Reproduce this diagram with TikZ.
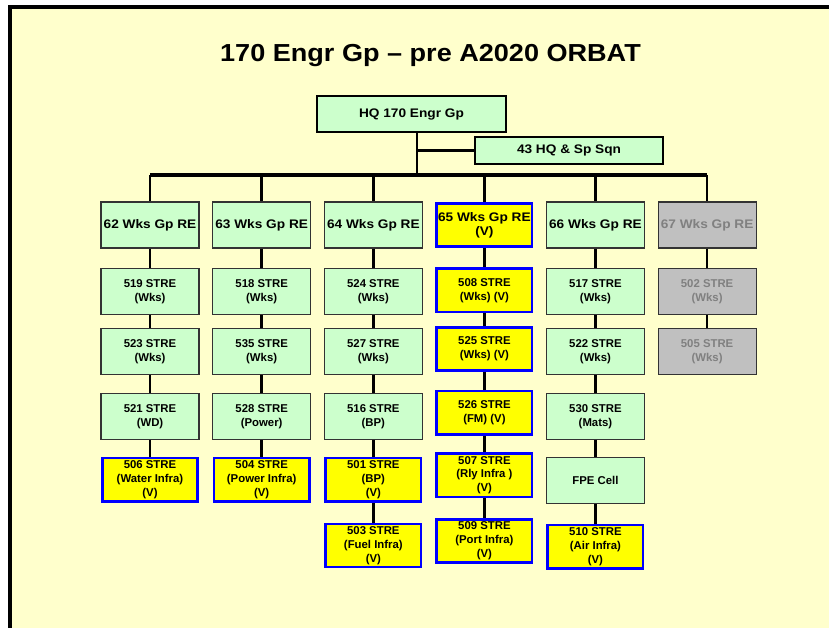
\documentclass[tikz,border=0pt]{standalone}
\usepackage{fontspec}
\setmainfont{Liberation Sans}
\newfontfamily\widesans[FakeStretch=1.1]{Liberation Sans}
\usepackage{xcolor}
\usepackage{tikz}
\usetikzlibrary{positioning}
\definecolor{paleyellow}{RGB}{255,255,204}
\definecolor{palegreen}{RGB}{204,255,204}
\definecolor{brightyellow}{RGB}{255,255,0}
\definecolor{vblue}{RGB}{0,0,255}
\definecolor{lightgrey}{RGB}{192,192,192}
\definecolor{midgrey}{RGB}{128,128,128}

\begin{document}
\begin{tikzpicture}[x=0.03cm, y=-0.03cm,
  regbox/.style={rectangle, draw=black!80, line width=1pt, fill=palegreen, minimum width=2.94cm, minimum height=1.38cm, inner sep=1pt, align=center, font=\fontsize{9.7}{11.9}\selectfont\bfseries},
  resbox/.style={regbox, draw=vblue, line width=2.2pt, fill=brightyellow, minimum width=2.86cm, minimum height=1.30cm},
  ghostbox/.style={regbox, fill=lightgrey, text=midgrey},
  gpfont/.style={font=\widesans\fontsize{10.6}{12.3}\selectfont\bfseries},
  hqbox/.style={rectangle, draw=black, line width=1.5pt, fill=palegreen, inner sep=0pt, font=\widesans\fontsize{10.6}{13}\selectfont\bfseries},
  link/.style={line width=2.3pt},
  busline/.style={line width=2.6pt}]
  % slide background and frame
  \useasboundingbox (0,0) rectangle (829,628);
  \clip (0,0) rectangle (829,628);
  \fill[white] (0,0) rectangle (829,628);
  \fill[paleyellow] (10.3,7.2) rectangle (840,640);
  \draw[line width=3.4pt] (10.3,640) -- (10.3,7.2) -- (840,7.2);

  \node[font=\widesans\fontsize{21}{25}\selectfont\bfseries, anchor=base] (title) at (430.5,61.5) {170 Engr Gp – pre A2020 ORBAT};

  % HQ level
  \node[hqbox, minimum width=5.67cm, minimum height=1.1cm] (hq) at (411.5,114) {HQ 170 Engr Gp};
  \node[hqbox, minimum width=5.65cm, minimum height=0.81cm] (sqn) at (569,150.5) {43 HQ \& Sp Sqn};

  % Wks Gps
  \node[regbox, gpfont] (g62) at (150,225) {62 Wks Gp RE};
  \node[regbox, gpfont, right=0.375cm of g62] (g63) {63 Wks Gp RE};
  \node[regbox, gpfont, right=0.375cm of g63] (g64) {64 Wks Gp RE};
  \node[resbox, gpfont, right=0.375cm of g64] (g65) {65 Wks Gp RE\\(V)};
  \node[regbox, gpfont, right=0.375cm of g65] (g66) {66 Wks Gp RE};
  \node[ghostbox, gpfont, right=0.375cm of g66] (g67) {67 Wks Gp RE};

  \coordinate (trunk) at (417,175);
  \draw[link] (hq.south -| trunk) -- (trunk);
  \draw[link] (trunk |- sqn.west) -- (sqn.west);
  \draw[busline] (g62.north |- trunk) -- (g67.north |- trunk);
  \draw[link] (g62.north |- trunk) -- (g62);
  \draw[link] (g63.north |- trunk) -- (g63);
  \draw[link] (g64.north |- trunk) -- (g64);
  \draw[link] (g65.north |- trunk) -- (g65);
  \draw[link] (g66.north |- trunk) -- (g66);
  \draw[link] (g67.north |- trunk) -- (g67);

  % 62 Wks Gp
  \node[regbox, below=0.585cm of g62] (s519) {519 STRE\\(Wks)};
  \node[regbox, below=0.38cm of s519] (s523) {523 STRE\\(Wks)};
  \node[regbox, below=0.53cm of s523] (s521) {521 STRE\\(WD)};
  \node[resbox, below=0.50cm of s521] (s506) {506 STRE\\(Water Infra)\\(V)};
  \draw[link] (g62) -- (s519) -- (s523) -- (s521) -- (s506);

  % 63 Wks Gp
  \node[regbox, below=0.585cm of g63] (s518) {518 STRE\\(Wks)};
  \node[regbox, below=0.38cm of s518] (s535) {535 STRE\\(Wks)};
  \node[regbox, below=0.53cm of s535] (s528) {528 STRE\\(Power)};
  \node[resbox, below=0.50cm of s528] (s504) {504 STRE\\(Power Infra)\\(V)};
  \draw[link] (g63) -- (s518) -- (s535) -- (s528) -- (s504);

  % 64 Wks Gp
  \node[regbox, below=0.585cm of g64] (s524) {524 STRE\\(Wks)};
  \node[regbox, below=0.38cm of s524] (s527) {527 STRE\\(Wks)};
  \node[regbox, below=0.53cm of s527] (s516) {516 STRE\\(BP)};
  \node[resbox, below=0.50cm of s516] (s501) {501 STRE\\(BP)\\(V)};
  \node[resbox, below=0.60cm of s501] (s503) {503 STRE\\(Fuel Infra)\\(V)};
  \draw[link] (g64) -- (s524) -- (s527) -- (s516) -- (s501) -- (s503);

  % 65 Wks Gp
  \node[resbox, below=0.585cm of g65] (s508) {508 STRE\\(Wks) (V)};
  \node[resbox, below=0.38cm of s508] (s525) {525 STRE\\(Wks) (V)};
  \node[resbox, below=0.53cm of s525] (s526) {526 STRE\\(FM) (V)};
  \node[resbox, below=0.50cm of s526] (s507) {507 STRE\\(Rly Infra )\\(V)};
  \node[resbox, below=0.60cm of s507] (s509) {509 STRE\\(Port Infra)\\(V)};
  \draw[link] (g65) -- (s508) -- (s525) -- (s526) -- (s507) -- (s509);

  % 66 Wks Gp
  \node[regbox, below=0.585cm of g66] (s517) {517 STRE\\(Wks)};
  \node[regbox, below=0.38cm of s517] (s522) {522 STRE\\(Wks)};
  \node[regbox, below=0.53cm of s522] (s530) {530 STRE\\(Mats)};
  \node[regbox, below=0.50cm of s530] (fpe) {FPE Cell};
  \node[resbox, below=0.60cm of fpe] (s510) {510 STRE\\(Air Infra)\\(V)};
  \draw[link] (g66) -- (s517) -- (s522) -- (s530) -- (fpe) -- (s510);

  % 67 Wks Gp
  \node[ghostbox, below=0.585cm of g67] (s502) {502 STRE\\(Wks)};
  \node[ghostbox, below=0.38cm of s502] (s505) {505 STRE\\(Wks)};
  \draw[link] (g67) -- (s502) -- (s505);
\end{tikzpicture}
\end{document}
